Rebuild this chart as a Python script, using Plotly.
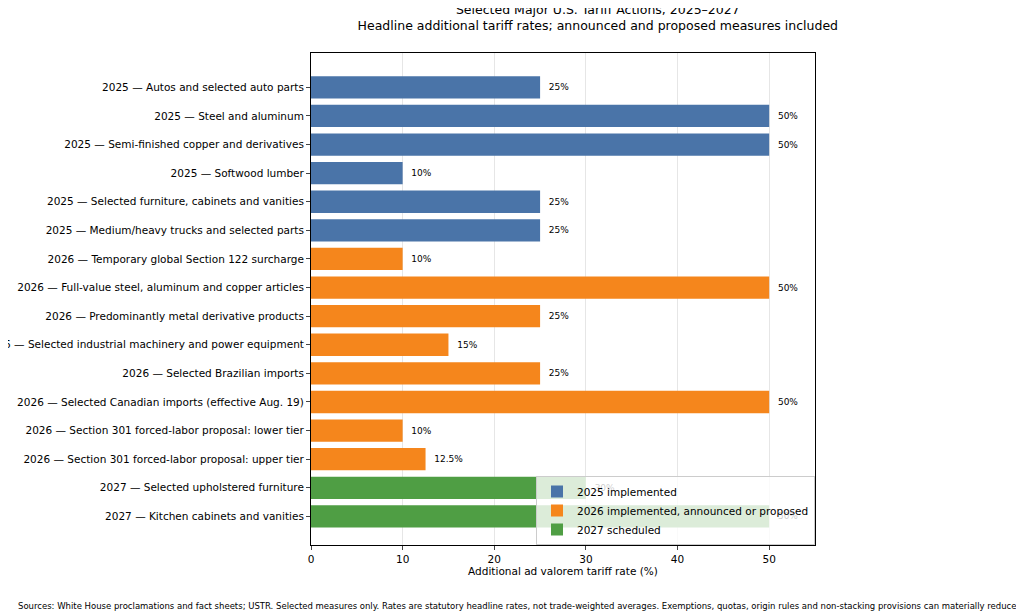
import plotly.graph_objects as go

labels = [
    "2025 — Autos and selected auto parts",
    "2025 — Steel and aluminum",
    "2025 — Semi-finished copper and derivatives",
    "2025 — Softwood lumber",
    "2025 — Selected furniture, cabinets and vanities",
    "2025 — Medium/heavy trucks and selected parts",
    "2026 — Temporary global Section 122 surcharge",
    "2026 — Full-value steel, aluminum and copper articles",
    "2026 — Predominantly metal derivative products",
    "2026 — Selected industrial machinery and power equipment",
    "2026 — Selected Brazilian imports",
    "2026 — Selected Canadian imports (effective Aug. 19)",
    "2026 — Section 301 forced-labor proposal: lower tier",
    "2026 — Section 301 forced-labor proposal: upper tier",
    "2027 — Selected upholstered furniture",
    "2027 — Kitchen cabinets and vanities",
]
rates = [25, 50, 50, 10, 25, 25, 10, 50, 25, 15, 25, 50, 10, 12.5, 30, 50]
groups = ["2025"] * 6 + ["2026"] * 8 + ["2027"] * 2

group_names = {"2025": "2025 implemented",
               "2026": "2026 implemented, announced or proposed",
               "2027": "2027 scheduled"}
colors = {"2025": "#4a74a8", "2026": "#f5861c", "2027": "#4f9e44"}

fig = go.Figure()
for g in ["2025", "2026", "2027"]:
    ys = [l for l, gg in zip(labels, groups) if gg == g]
    xs = [r for r, gg in zip(rates, groups) if gg == g]
    fig.add_trace(go.Bar(
        x=xs, y=ys, orientation="h", name=group_names[g],
        marker_color=colors[g], marker_line_width=0, width=0.78,
        text=[("  %g%%" % v) for v in xs], textposition="outside",
        textfont=dict(size=9, color="black"), cliponaxis=False,
    ))

fig.update_yaxes(categoryorder="array", categoryarray=labels,
                 showline=True, mirror=True, linecolor="black", linewidth=1,
                 ticks="outside", ticklen=4, tickfont=dict(size=10.5, color="black"),
                 range=[16.0, -1.2], automargin=False)
fig.update_xaxes(range=[0, 55], dtick=10, showgrid=True, gridcolor="#e6e6e6",
                 showline=True, mirror=True, linecolor="black", linewidth=1,
                 ticks="outside", ticklen=4, tickfont=dict(size=10.5, color="black"),
                 zeroline=False, automargin=False,
                 title=dict(text="Additional ad valorem tariff rate (%)",
                            font=dict(size=10.5, color="black"), standoff=4))

fig.update_layout(
    width=1024, height=611,
    margin=dict(l=303, r=217, t=45, b=74, autoexpand=False),
    plot_bgcolor="white", paper_bgcolor="white",
    font=dict(family="DejaVu Sans", color="black"),
    barmode="overlay",
    title=dict(text="Selected Major U.S. Tariff Actions, 2025–2027<br>"
                    "Headline additional tariff rates; announced and proposed measures included",
               xref="container", x=0.576, xanchor="center",
               yref="container", y=0.99, yanchor="top",
               font=dict(size=12.5, color="black")),
    legend=dict(x=1, xanchor="right", y=0, yanchor="bottom",
                bgcolor="rgba(255,255,255,0.8)", bordercolor="#cccccc", borderwidth=1,
                font=dict(size=10.5), tracegroupgap=0, itemwidth=30),
    annotations=[dict(
        text="Sources: White House proclamations and fact sheets; USTR. Selected measures only. "
             "Rates are statutory headline rates, not trade-weighted averages. Exemptions, quotas, "
             "origin rules and non-stacking provisions can materially reduce effective rates.",
        xref="paper", yref="paper", x=-295 / 504, xanchor="left",
        y=-61 / 492, yanchor="middle", showarrow=False, font=dict(size=8.5))],
)

fig.write_html("out.html")
